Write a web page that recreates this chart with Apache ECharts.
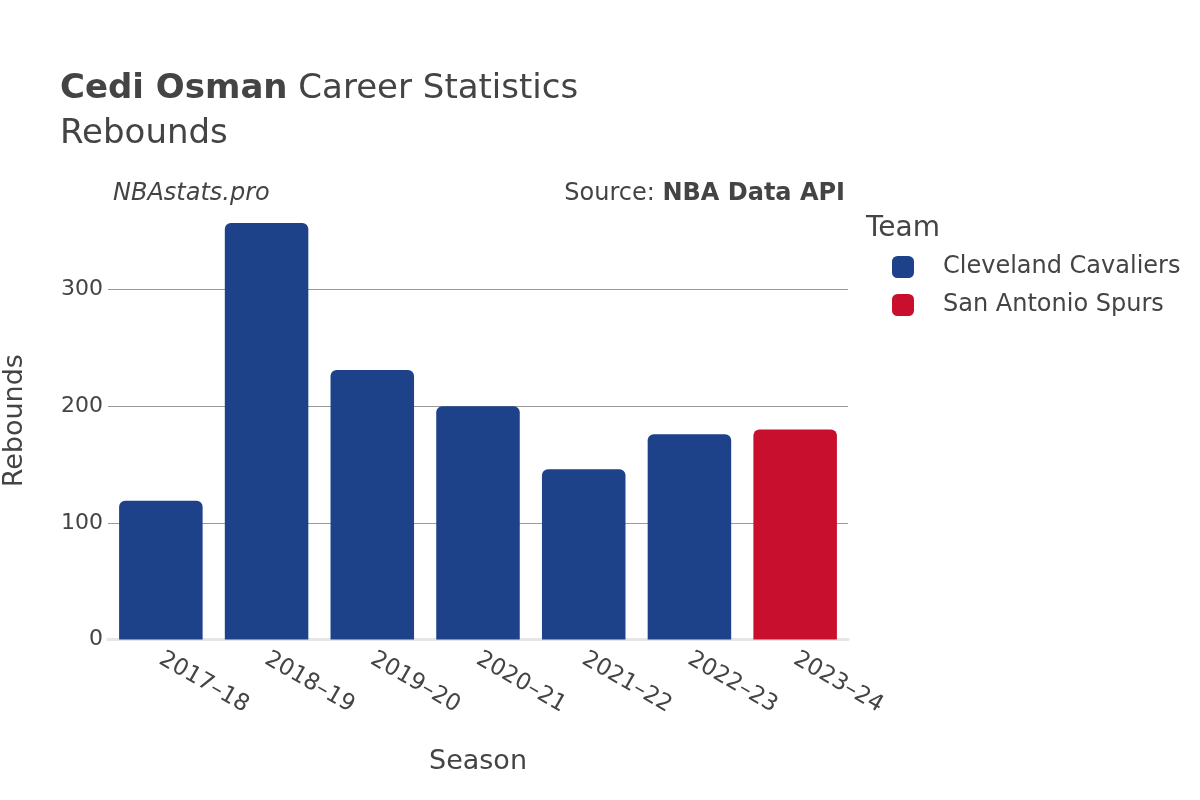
<!DOCTYPE html>
<html>
<head>
<meta charset="utf-8">
<script src="https://cdn.jsdelivr.net/npm/echarts@6/dist/echarts.min.js"></script>
<style>html,body{margin:0;padding:0;background:#fff}#c{width:1200px;height:800px}</style>
</head>
<body>
<div id="c"></div>
<script>
const seasons = ['2017–18','2018–19','2019–20','2020–21','2021–22','2022–23','2023–24'];
const teams = ['Cleveland Cavaliers','San Antonio Spurs'];
const teamColors = ['#1d428a','#c8102e'];
const cavaliers = [119, 357, 231, 200, 146, 176, '-'];
const spurs = ['-', '-', '-', '-', '-', '-', 180];
const yTicks = [0, 100, 200, 300];

const FONT = 'DejaVu Sans';
const chart = echarts.init(document.getElementById('c'), null, {renderer:'canvas'});
chart.setOption({
  backgroundColor:'#fff',
  textStyle:{fontFamily:FONT,color:'#444'},
  animation:false,
  title:{
    left:60, top:72, padding:0,
    text:'{b|Cedi Osman} Career Statistics',
    subtext:'Rebounds',
    itemGap:11,
    textStyle:{fontFamily:FONT,fontSize:34,color:'#444',fontWeight:'normal',
      rich:{b:{fontFamily:FONT,fontSize:34,fontWeight:'bold',color:'#444'}}},
    subtextStyle:{fontFamily:FONT,fontSize:34,color:'#444'}
  },
  legend:{
    orient:'vertical', left:892, top:255, padding:0,
    itemWidth:22, itemHeight:22, itemGap:14,
    icon:'roundRect',
    textStyle:{fontFamily:FONT,fontSize:24,color:'#444',padding:[0,0,0,24]},
    data:teams
  },
  graphic:[
    {type:'text',left:866,top:215,style:{text:'Team',font:'28px "DejaVu Sans"',fill:'#444'}},
    {type:'text',left:113,top:182,style:{text:'NBAstats.pro',font:'italic 24px "DejaVu Sans"',fill:'#444'}},
    {type:'text',right:355,top:182,style:{text:'{n|Source: }{b|NBA Data API}',rich:{n:{font:'24px "DejaVu Sans"',fill:'#444'},b:{font:'bold 24px "DejaVu Sans"',fill:'#444'}}}}
  ],
  grid:{left:108,right:352,top:202,bottom:160.5,containLabel:false,outerBoundsMode:'none'},
  xAxis:{
    type:'category', data:seasons,
    name:'Season', nameLocation:'middle', nameGap:109,
    nameTextStyle:{fontFamily:FONT,fontSize:27,color:'#444'},
    axisLine:{show:true,lineStyle:{color:'#e6e6e6',width:3}},
    axisTick:{show:false},
    axisLabel:{rotate:-30,fontFamily:FONT,fontSize:23,color:'#444',margin:18}
  },
  yAxis:{
    type:'value', min:0, max:375, interval:100,
    name:'Rebounds', nameLocation:'middle', nameGap:80,
    nameTextStyle:{fontFamily:FONT,fontSize:27,color:'#444'},
    axisLine:{show:false}, axisTick:{show:false},
    axisLabel:{fontFamily:FONT,fontSize:22,color:'#444',margin:5,
      formatter:v=>yTicks.includes(v)?String(v):''},
    splitLine:{show:true,showMinLine:false,showMaxLine:false,lineStyle:{color:'#9a9a9a',width:1}}
  },
  series:[
    {name:teams[0],type:'bar',data:cavaliers,barWidth:'79%',barGap:'-100%',
     itemStyle:{color:teamColors[0],borderRadius:[6,6,0,0]}},
    {name:teams[1],type:'bar',data:spurs,barWidth:'79%',barGap:'-100%',
     itemStyle:{color:teamColors[1],borderRadius:[6,6,0,0]}}
  ]
});
</script>
</body>
</html>
